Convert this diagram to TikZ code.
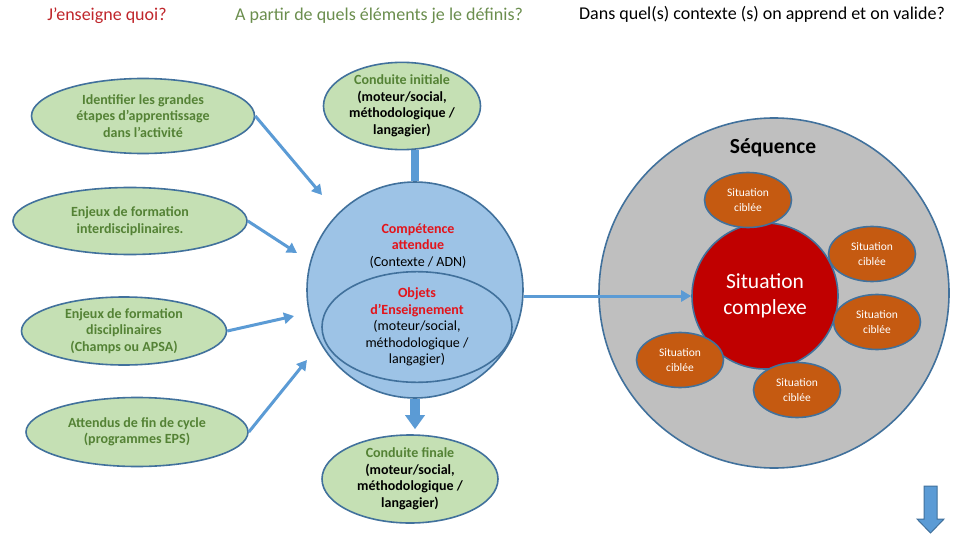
\documentclass[tikz,border=0pt]{standalone}
\usepackage{fontspec}
\setmainfont{Carlito}
\usetikzlibrary{shapes.geometric,arrows.meta}
\definecolor{edgeblue}{HTML}{41719C}
\definecolor{arrowblue}{HTML}{5B9BD5}
\definecolor{greenfill}{HTML}{C5E0B4}
\definecolor{greentext}{HTML}{548235}
\definecolor{headgreen}{HTML}{6B8E4E}
\definecolor{headred}{HTML}{C0262B}
\definecolor{brightred}{HTML}{E3141B}
\definecolor{bluefill}{HTML}{9DC3E6}
\definecolor{greyfill}{HTML}{BFBFBF}
\definecolor{redfill}{HTML}{C00000}
\definecolor{orangefill}{HTML}{C55A11}
\pgfdeclarelayer{bottom}
\pgfdeclarelayer{background}
\pgfsetlayers{bottom,background,main}
\tikzset{
  greenell/.style={ellipse, draw=edgeblue, line width=1.6pt, fill=greenfill, inner sep=0pt, align=center,
    font=\fontsize{14}{16.5}\selectfont\bfseries, text=greentext},
  orangeell/.style={ellipse, draw=edgeblue, line width=1.6pt, fill=orangefill, inner sep=0pt, align=center,
    minimum width=87pt, minimum height=55pt, font=\fontsize{11.5}{15}\selectfont, text=white},
  thinarrow/.style={draw=arrowblue, line width=3pt, -{Triangle[length=10pt,width=11pt]}},
  header/.style={font=\fontsize{18}{21}\selectfont, anchor=center}
}
\begin{document}
\begin{tikzpicture}[x=1pt,y=-1pt]
\useasboundingbox (0,0) rectangle (960,540);
\begin{pgfonlayer}{bottom}
\fill[white] (0,0) rectangle (960,540);
\end{pgfonlayer}

% headers
\node[header, text=headred] (h1) at (107,16) {J’enseigne quoi?};
\node[header, text=headgreen] (h2) at (379,16) {A partir de quels éléments je le définis?};
\node[header, text=black] (h3) at (762,14) {Dans quel(s) contexte (s) on apprend et on valide?};

% left ellipses
\node[greenell, minimum width=223pt, minimum height=75pt] (ident) at (143,116)
  {Identifier les grandes\\étapes d’apprentissage\\dans l’activité};
\node[greenell, minimum width=234pt, minimum height=67pt] (inter) at (130,221)
  {Enjeux de formation\\interdisciplinaires.};
\node[greenell, minimum width=205pt, minimum height=68pt] (disc) at (124,331)
  {Enjeux de formation\\disciplinaires\\(Champs ou APSA)};
\node[greenell, minimum width=222pt, minimum height=69pt] (att) at (137,432)
  {Attendus de fin de cycle\\(programmes EPS)};

% middle column
\node[greenell, minimum width=157pt, minimum height=82pt] (ci) at (402,106)
  {Conduite initiale\\\textcolor{black}{(moteur/social,}\\\textcolor{black}{méthodologique /}\\\textcolor{black}{langagier)}};
\node[circle, draw=edgeblue, line width=1.6pt, fill=bluefill, minimum size=216pt, inner sep=0pt] (comp) at (415,290) {};
\node[align=center, font=\fontsize{14}{16.5}\selectfont] (comptxt) at (418,246)
  {\textcolor{brightred}{\bfseries Compétence}\\\textcolor{brightred}{\bfseries attendue}\\(Contexte / ADN)};
\node[ellipse, draw=edgeblue, line width=1.6pt, fill=bluefill, minimum width=190pt, minimum height=100pt, inner sep=0pt,
  align=center, font=\fontsize{14}{16.5}\selectfont] (obj) at (417,327)
  {\textcolor{brightred}{\bfseries Objets}\\\textcolor{brightred}{\bfseries d’Enseignement}\\(moteur/social,\\méthodologique /\\langagier)};
\node[greenell, minimum width=176pt, minimum height=88pt] (cf) at (410,479)
  {Conduite finale\\\textcolor{black}{(moteur/social,}\\\textcolor{black}{méthodologique /}\\\textcolor{black}{langagier)}};

% block arrows behind
\begin{pgfonlayer}{background}
  \draw[arrowblue, line width=8pt] (comp.north |- ci.south) -- (comp.north);
  \draw[arrowblue, line width=10pt, -{Triangle[length=14pt,width=19pt]}] (comp.south) -- ([yshift=5pt]comp.south |- cf.north);
\end{pgfonlayer}

% right: sequence
\node[circle, draw=edgeblue, line width=1.6pt, fill=greyfill, minimum size=350pt, inner sep=0pt] (seq) at (774,293) {};
\node[font=\fontsize{21.5}{24}\selectfont\bfseries] (seqtxt) at (773,148) {Séquence};
\node[circle, draw=edgeblue, line width=1.6pt, fill=redfill, minimum size=146pt, inner sep=0pt, align=center,
  text=white, font=\fontsize{21.5}{26}\selectfont] (cx) at (765,296) {Situation\\complexe};
\node[orangeell] (o1) at (748,200) {Situation\\ciblée};
\node[orangeell] (o2) at (872,254) {Situation\\ciblée};
\node[orangeell] (o3) at (877,322) {Situation\\ciblée};
\node[orangeell] (o4) at (680,360) {Situation\\ciblée};
\node[orangeell] (o5) at (797,390) {Situation\\ciblée};

% thin arrows
\coordinate (t1) at (322,195);
\coordinate (t2) at (297,253);
\coordinate (t3) at (294,316);
\coordinate (t4) at (307,360);
\draw[thinarrow] (ident.east) -- (t1);
\draw[thinarrow] (inter.east) -- (t2);
\draw[thinarrow] (disc.east) -- (t3);
\draw[thinarrow] (att.east) -- (t4);
\draw[thinarrow] (comp.east |- cx.west) -- (cx.west);

% bottom right block arrow
\draw[edgeblue, line width=1pt, fill=arrowblue] (924,486) -- (937,486) -- (937,519) -- (944,519) -- (930.5,533) -- (917,519) -- (924,519) -- cycle;
\end{tikzpicture}
\end{document}
